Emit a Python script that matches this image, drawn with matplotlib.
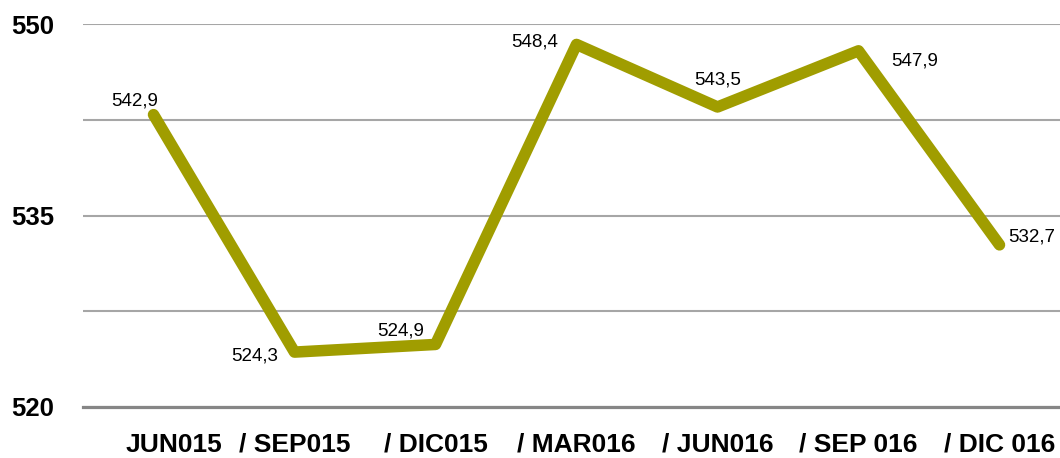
import matplotlib
matplotlib.use("Agg")
from matplotlib import pyplot as plt
import matplotlib.transforms as mtransforms

periods = ["JUN015", "/ SEP015", "/ DIC015", "/ MAR016", "/ JUN016", "/ SEP 016", "/ DIC 016"]
values = [542.9, 524.3, 524.9, 548.4, 543.5, 547.9, 532.7]
value_text = ["542,9", "524,3", "524,9", "548,4", "543,5", "547,9", "532,7"]
# label offsets in pixels relative to each point
label_offsets = [(-19, 14), (-40, -4), (-35, 13), (-42, 2), (0, 27), (56, -10), (32, 8)]

line_color = "#a09d00"

fig = plt.figure(figsize=(10.6, 4.58), dpi=100)
# plot area runs a little past the right edge of the canvas, as in the original
ax = fig.add_axes([83 / 1060, (458 - 407) / 458, 987 / 1060, (407 - 24) / 458])

x = list(range(len(values)))
ax.plot(x, values, color=line_color, linewidth=8.3, solid_capstyle="round",
        solid_joinstyle="round", zorder=3)

for xi, v, t, (dx, dy) in zip(x, values, value_text, label_offsets):
    ax.annotate(t, (xi, v), xytext=(dx, dy), textcoords="offset pixels",
                ha="center", va="center", fontsize=13.5,
                family="Liberation Sans", color="#000000", zorder=4)

ax.set_xlim(-0.5, len(values) - 0.5)
ax.set_ylim(520, 550)
ax.set_yticks([520, 535, 550])
ax.set_yticks([527.5, 542.5], minor=True)
ax.grid(axis="y", which="both", color="#a6a6a6", linewidth=1.5, zorder=1)
ax.tick_params(axis="y", which="both", length=0, pad=21)
ax.tick_params(axis="x", length=0, pad=18.5)

ax.set_xticks(x)
ax.set_xticklabels(periods)
for lab in ax.get_yticklabels():
    lab.set_fontfamily("Liberation Sans")
    lab.set_fontweight("bold")
    lab.set_fontsize(18.5)
for lab in ax.get_xticklabels():
    lab.set_fontfamily("Liberation Sans")
    lab.set_fontweight("bold")
    lab.set_fontsize(19)

first = ax.get_xticklabels()[0]
first.set_transform(first.get_transform()
                    + mtransforms.ScaledTranslation(20 / 100, 0, fig.dpi_scale_trans))

for side in ["top", "right", "left"]:
    ax.spines[side].set_visible(False)
ax.spines["bottom"].set_color("#868686")
ax.spines["bottom"].set_linewidth(2.3)
ax.spines["bottom"].set_zorder(2)

fig.savefig("out.png", dpi=100)
